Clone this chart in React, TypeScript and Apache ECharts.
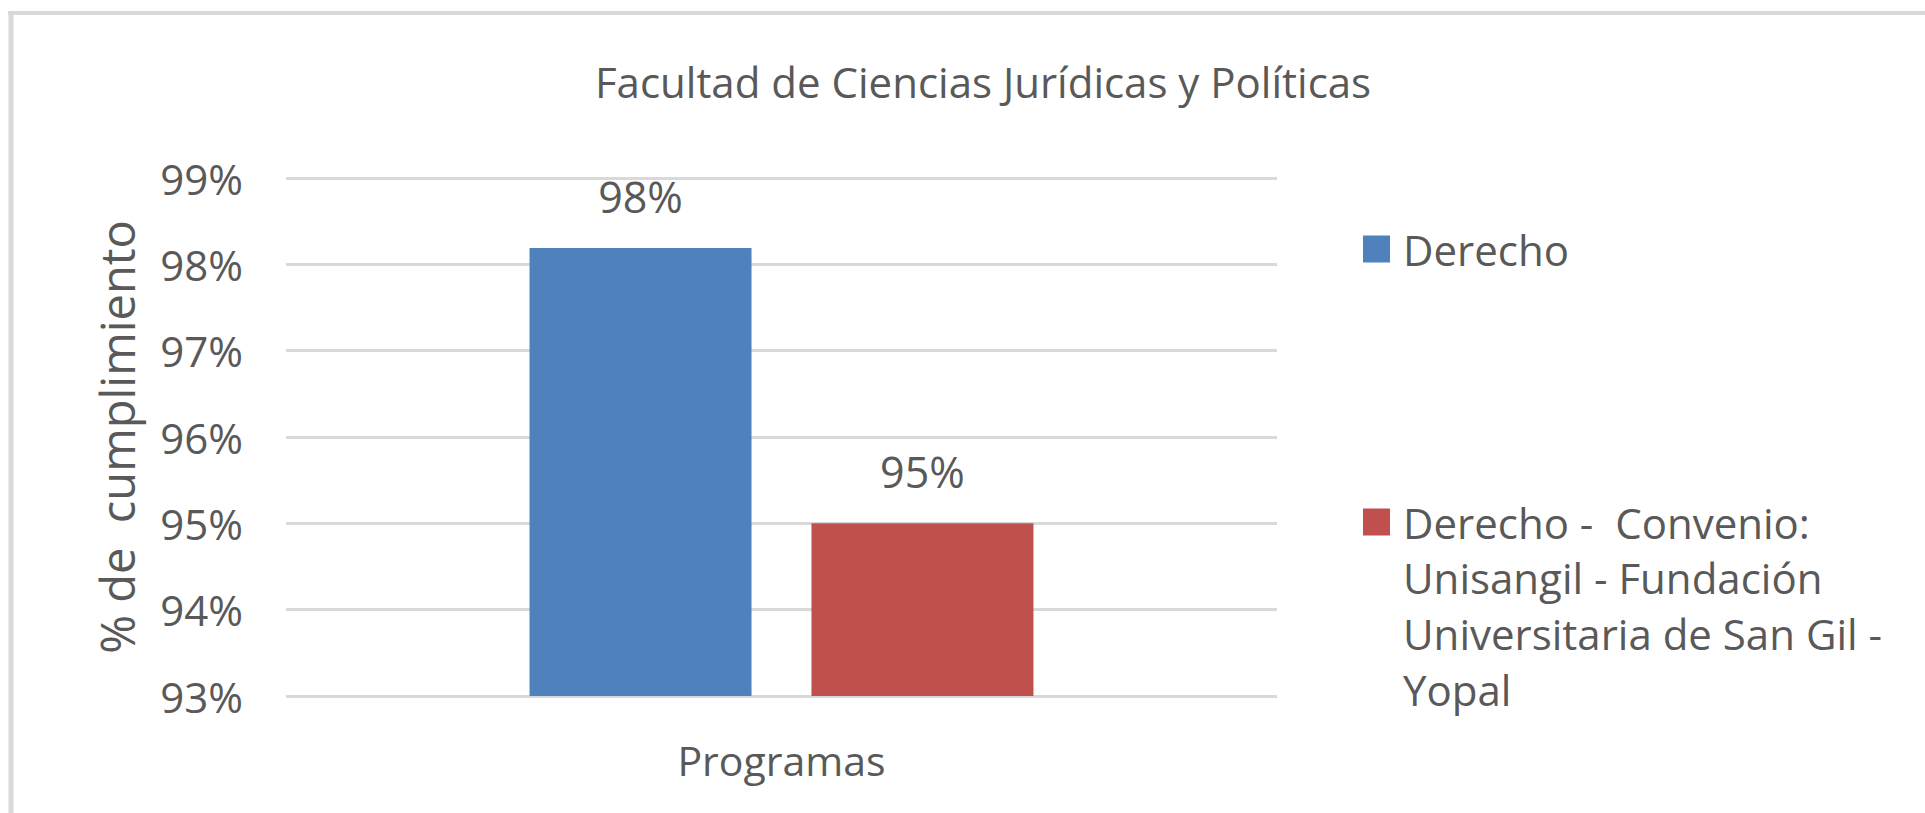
import React, { useEffect, useRef } from "react";
import * as echarts from "echarts";

const categories = ["Programas"];
const seriesNames = [
  "Derecho",
  "Derecho -  Convenio: Unisangil - Fundación Universitaria de San Gil - Yopal",
];
const legendFirstLine = "Derecho -  Convenio:";
const legendMoreLines = ["Unisangil - Fundación", "Universitaria de San Gil -", "Yopal"];
const derechoValues = [98.19];
const convenioValues = [95.0];
const yTicks = { min: 93, max: 99, interval: 1 };
const titleText = "Facultad de Ciencias Jurídicas y Políticas";
const yAxisName = "% de  cumplimiento";

const FONT = "'Open Sans', 'Noto Sans', sans-serif";
const TXT = "#595959";

export default function App() {
  const ref = useRef<HTMLDivElement>(null);
  useEffect(() => {
    if (!ref.current) return;
    const chart = echarts.init(ref.current, undefined, { renderer: "svg" });
    const lh = 56;
    const legendFont = 42;
    const labelStyle = {
      show: true,
      position: "top",
      distance: 30,
      fontFamily: FONT,
      fontSize: 43,
      color: TXT,
      formatter: (p: any) => Math.round(p.value) + "%",
    };
    chart.setOption({
      animation: false,
      backgroundColor: "#ffffff",
      textStyle: { fontFamily: FONT },
      title: {
        text: titleText,
        left: 978,
        top: 55,
        textAlign: "center",
        textStyle: { fontFamily: FONT, fontSize: 42, fontWeight: "normal", color: TXT },
      },
      grid: { left: 286, right: 648, top: 178, bottom: 117 },
      legend: [
        {
          data: [seriesNames[0]],
          orient: "vertical",
          left: 1363,
          top: 249 - lh / 2,
          padding: 0,
          itemWidth: 27,
          itemHeight: 27,
          icon: "rect",
          textStyle: { fontFamily: FONT, fontSize: legendFont, color: TXT, lineHeight: lh, padding: [0, 0, 0, 8] },
        },
        {
          data: [seriesNames[1]],
          orient: "vertical",
          left: 1363,
          top: 522 - lh / 2,
          padding: 0,
          itemWidth: 27,
          itemHeight: 27,
          icon: "rect",
          formatter: () => legendFirstLine,
          textStyle: { fontFamily: FONT, fontSize: legendFont, color: TXT, lineHeight: lh, padding: [0, 0, 0, 8] },
        },
      ],
      xAxis: {
        type: "category",
        data: categories,
        axisLine: { show: false },
        axisTick: { show: false },
        axisLabel: { fontFamily: FONT, fontSize: 41, color: TXT, margin: 43 },
      },
      yAxis: {
        type: "value",
        min: yTicks.min,
        max: yTicks.max,
        interval: yTicks.interval,
        name: yAxisName,
        nameLocation: "middle",
        nameRotate: 90,
        nameGap: 146,
        nameTextStyle: { fontFamily: FONT, fontSize: 47, color: TXT },
        axisLine: { show: false },
        axisTick: { show: false },
        axisLabel: { fontFamily: FONT, fontSize: 42, color: TXT, margin: 43, formatter: "{value}%" },
        splitLine: { lineStyle: { color: "#d9d9d9", width: 3 } },
      },
      series: [
        {
          name: seriesNames[0],
          type: "bar",
          data: derechoValues,
          barWidth: 222,
          barGap: "27%",
          itemStyle: { color: "#4f81bd" },
          label: labelStyle,
        },
        {
          name: seriesNames[1],
          type: "bar",
          data: convenioValues,
          barWidth: 222,
          itemStyle: { color: "#c0504d" },
          label: labelStyle,
        },
      ],
      graphic: [
        { type: "line", shape: { x1: 8, y1: 13, x2: 1925, y2: 13 }, style: { stroke: "#d9d9d9", lineWidth: 4 } },
        { type: "line", shape: { x1: 11, y1: 11, x2: 11, y2: 813 }, style: { stroke: "#d9d9d9", lineWidth: 5 } },
        {
          type: "text",
          left: 1403,
          top: 577 - lh / 2,
          style: {
            text: legendMoreLines.join("\n"),
            fontFamily: FONT,
            fontSize: legendFont,
            lineHeight: lh,
            fill: TXT,
          },
        },
      ],
    });
    return () => chart.dispose();
  }, []);
  return (
    <div
      ref={ref}
      style={{ position: "fixed", left: 0, top: 0, width: 1925, height: 813 }}
    />
  );
}
